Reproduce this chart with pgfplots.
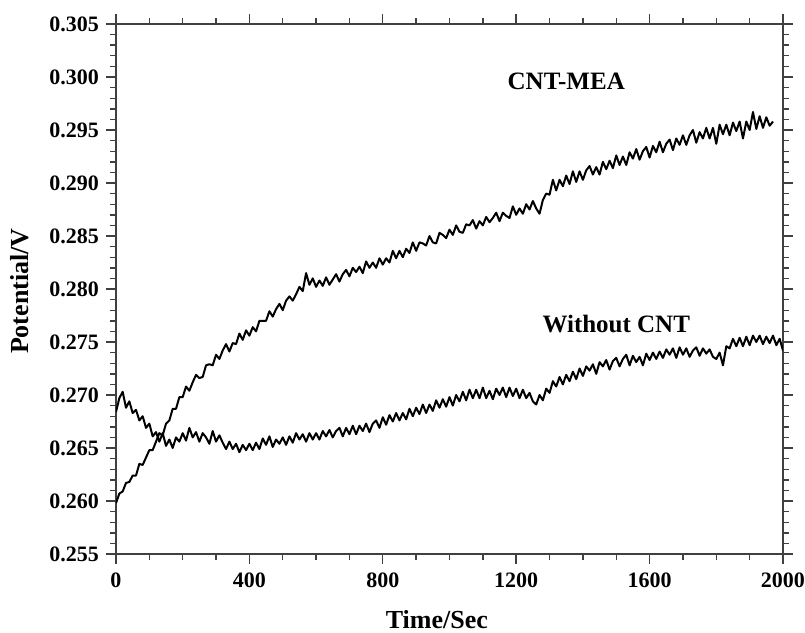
\documentclass[border=0pt]{standalone}
\usepackage{pgfplots}
\pgfplotsset{compat=1.18}
\usepackage{fontspec}
\setmainfont{Liberation Serif}
\begin{document}
\begin{tikzpicture}
\begin{axis}[
  scale only axis, width=333.5pt, height=265pt,
  xmin=0, xmax=2000, ymin=0.255, ymax=0.305,
  xtick={0,400,800,1200,1600,2000},
  ytick={0.255,0.260,0.265,0.270,0.275,0.280,0.285,0.290,0.295,0.300,0.305},
  minor x tick num=3, minor y tick num=4,
  tick align=outside,
  major tick length=5pt, minor tick length=3pt,
  axis line style={black!75, line width=0.8pt},
  every tick/.style={black!75, line width=0.7pt},
  /pgf/number format/assume math mode=true,
  /pgf/number format/1000 sep={},
  yticklabel style={/pgf/number format/fixed, /pgf/number format/precision=3, /pgf/number format/fixed zerofill},
  scaled y ticks=false,
  tick label style={font=\fontsize{11pt}{13pt}\selectfont\bfseries},
  xticklabel style={yshift=-1pt},
  xlabel={Time/Sec}, ylabel={Potential/V},
  label style={font=\fontsize{13pt}{15pt}\selectfont\bfseries},
  x label style={at={(axis description cs:0.481,-0.1245)}, anchor=center},
  y label style={at={(axis description cs:-0.1439,0.496)}, anchor=center, rotate=0},
  clip=true,
]
\coordinate (sw) at (rel axis cs:0,0);
% CNT-MEA
\addplot[black, line width=1pt, line join=round] coordinates {
(0,0.2598)(10,0.2607)(20,0.2609)(30,0.2617)(40,0.2618)(50,0.2624)(60,0.2624)(70,0.2635)(80,0.2634)(90,0.2641)
(100,0.2648)(110,0.2648)(120,0.2656)(130,0.2664)(140,0.2662)(150,0.2673)(160,0.2676)(170,0.2687)(180,0.2687)(190,0.2698)
(200,0.2698)(210,0.2708)(220,0.2704)(230,0.2712)(240,0.2719)(250,0.2716)(260,0.2717)(270,0.2728)(280,0.2729)(290,0.2728)
(300,0.2738)(310,0.2734)(320,0.2742)(330,0.2748)(340,0.2741)(350,0.2749)(360,0.2748)(370,0.2758)(380,0.2752)(390,0.2761)
(400,0.2756)(410,0.2764)(420,0.2760)(430,0.2770)(440,0.2770)(450,0.2770)(460,0.2779)(470,0.2774)(480,0.2781)(490,0.2786)
(500,0.2780)(510,0.2789)(520,0.2793)(530,0.2789)(540,0.2795)(550,0.2802)(560,0.2798)(570,0.2815)(580,0.2804)(590,0.2810)
(600,0.2802)(610,0.2808)(620,0.2803)(630,0.2811)(640,0.2804)(650,0.2809)(660,0.2814)(670,0.2807)(680,0.2814)(690,0.2818)
(700,0.2812)(710,0.2820)(720,0.2816)(730,0.2821)(740,0.2815)(750,0.2826)(760,0.2820)(770,0.2825)(780,0.2820)(790,0.2829)
(800,0.2823)(810,0.2829)(820,0.2825)(830,0.2836)(840,0.2829)(850,0.2836)(860,0.2830)(870,0.2838)(880,0.2834)(890,0.2844)
(900,0.2836)(910,0.2844)(920,0.2843)(930,0.2841)(940,0.2850)(950,0.2844)(960,0.2843)(970,0.2853)(980,0.2851)(990,0.2848)
(1000,0.2856)(1010,0.2851)(1020,0.2860)(1030,0.2854)(1040,0.2853)(1050,0.2861)(1060,0.2860)(1070,0.2865)(1080,0.2857)(1090,0.2864)
(1100,0.2860)(1110,0.2868)(1120,0.2863)(1130,0.2867)(1140,0.2872)(1150,0.2864)(1160,0.2872)(1170,0.2869)(1180,0.2867)(1190,0.2878)
(1200,0.2870)(1210,0.2876)(1220,0.2871)(1230,0.2880)(1240,0.2875)(1250,0.2883)(1260,0.2876)(1270,0.2871)(1280,0.2884)(1290,0.2890)
(1300,0.2889)(1310,0.2903)(1320,0.2893)(1330,0.2903)(1340,0.2897)(1350,0.2907)(1360,0.2899)(1370,0.2911)(1380,0.2901)(1390,0.2911)
(1400,0.2903)(1410,0.2912)(1420,0.2916)(1430,0.2908)(1440,0.2915)(1450,0.2908)(1460,0.2920)(1470,0.2913)(1480,0.2921)(1490,0.2914)
(1500,0.2926)(1510,0.2917)(1520,0.2925)(1530,0.2917)(1540,0.2929)(1550,0.2923)(1560,0.2932)(1570,0.2922)(1580,0.2930)(1590,0.2934)
(1600,0.2924)(1610,0.2935)(1620,0.2929)(1630,0.2939)(1640,0.2929)(1650,0.2937)(1660,0.2941)(1670,0.2931)(1680,0.2942)(1690,0.2936)
(1700,0.2945)(1710,0.2936)(1720,0.2945)(1730,0.2950)(1740,0.2938)(1750,0.2948)(1760,0.2942)(1770,0.2952)(1780,0.2942)(1790,0.2952)
(1800,0.2937)(1810,0.2955)(1820,0.2946)(1830,0.2955)(1840,0.2945)(1850,0.2957)(1860,0.2949)(1870,0.2958)(1880,0.2942)(1890,0.2958)
(1900,0.2950)(1910,0.2967)(1920,0.2951)(1930,0.2963)(1940,0.2952)(1950,0.2962)(1960,0.2954)(1970,0.2958)
};
% Without CNT
\addplot[black, line width=1pt, line join=round] coordinates {
(0,0.2684)(10,0.2697)(20,0.2703)(30,0.2688)(40,0.2694)(50,0.2683)(60,0.2686)(70,0.2676)(80,0.2680)(90,0.2669)
(100,0.2673)(110,0.2661)(120,0.2665)(130,0.2656)(140,0.2664)(150,0.2652)(160,0.2658)(170,0.2650)(180,0.2660)(190,0.2656)
(200,0.2664)(210,0.2657)(220,0.2669)(230,0.2660)(240,0.2665)(250,0.2656)(260,0.2664)(270,0.2660)(280,0.2654)(290,0.2666)
(300,0.2656)(310,0.2662)(320,0.2655)(330,0.2649)(340,0.2656)(350,0.2649)(360,0.2654)(370,0.2646)(380,0.2653)(390,0.2648)
(400,0.2654)(410,0.2648)(420,0.2655)(430,0.2649)(440,0.2659)(450,0.2653)(460,0.2661)(470,0.2651)(480,0.2658)(490,0.2654)
(500,0.2660)(510,0.2653)(520,0.2661)(530,0.2655)(540,0.2664)(550,0.2658)(560,0.2663)(570,0.2656)(580,0.2664)(590,0.2658)
(600,0.2664)(610,0.2658)(620,0.2666)(630,0.2661)(640,0.2667)(650,0.2660)(660,0.2666)(670,0.2669)(680,0.2661)(690,0.2669)
(700,0.2663)(710,0.2671)(720,0.2663)(730,0.2671)(740,0.2666)(750,0.2673)(760,0.2665)(770,0.2673)(780,0.2676)(790,0.2669)
(800,0.2679)(810,0.2672)(820,0.2681)(830,0.2675)(840,0.2683)(850,0.2676)(860,0.2683)(870,0.2677)(880,0.2687)(890,0.2680)
(900,0.2688)(910,0.2682)(920,0.2691)(930,0.2683)(940,0.2691)(950,0.2685)(960,0.2695)(970,0.2688)(980,0.2696)(990,0.2689)
(1000,0.2698)(1010,0.2690)(1020,0.2700)(1030,0.2694)(1040,0.2703)(1050,0.2695)(1060,0.2705)(1070,0.2697)(1080,0.2705)(1090,0.2697)
(1100,0.2707)(1110,0.2697)(1120,0.2704)(1130,0.2696)(1140,0.2706)(1150,0.2700)(1160,0.2707)(1170,0.2698)(1180,0.2707)(1190,0.2699)
(1200,0.2706)(1210,0.2697)(1220,0.2705)(1230,0.2697)(1240,0.2702)(1250,0.2694)(1260,0.2691)(1270,0.2700)(1280,0.2695)(1290,0.2706)
(1300,0.2702)(1310,0.2713)(1320,0.2708)(1330,0.2717)(1340,0.2710)(1350,0.2719)(1360,0.2713)(1370,0.2722)(1380,0.2715)(1390,0.2725)
(1400,0.2718)(1410,0.2727)(1420,0.2723)(1430,0.2729)(1440,0.2720)(1450,0.2731)(1460,0.2727)(1470,0.2733)(1480,0.2724)(1490,0.2732)
(1500,0.2735)(1510,0.2727)(1520,0.2734)(1530,0.2738)(1540,0.2728)(1550,0.2737)(1560,0.2731)(1570,0.2736)(1580,0.2728)(1590,0.2739)
(1600,0.2733)(1610,0.2740)(1620,0.2734)(1630,0.2741)(1640,0.2735)(1650,0.2743)(1660,0.2738)(1670,0.2744)(1680,0.2735)(1690,0.2745)
(1700,0.2738)(1710,0.2744)(1720,0.2736)(1730,0.2742)(1740,0.2745)(1750,0.2737)(1760,0.2744)(1770,0.2739)(1780,0.2743)(1790,0.2736)
(1800,0.2734)(1810,0.2740)(1820,0.2728)(1830,0.2746)(1840,0.2744)(1850,0.2753)(1860,0.2746)(1870,0.2754)(1880,0.2746)(1890,0.2755)
(1900,0.2747)(1910,0.2756)(1920,0.2750)(1930,0.2756)(1940,0.2748)(1950,0.2755)(1960,0.2749)(1970,0.2756)(1980,0.2747)(1990,0.2753)
(2000,0.2742)
};
\node[font=\fontsize{12.5pt}{14pt}\selectfont\bfseries] at (axis cs:1350,0.2996) {CNT-MEA};
\node[font=\fontsize{12.5pt}{14pt}\selectfont\bfseries] at (axis cs:1500,0.2767) {Without CNT};
\end{axis}
\pgfresetboundingbox
\path (sw) ++(-58pt,-39.5pt) rectangle ++(402.5pt,316.5pt);
\end{tikzpicture}
\end{document}
